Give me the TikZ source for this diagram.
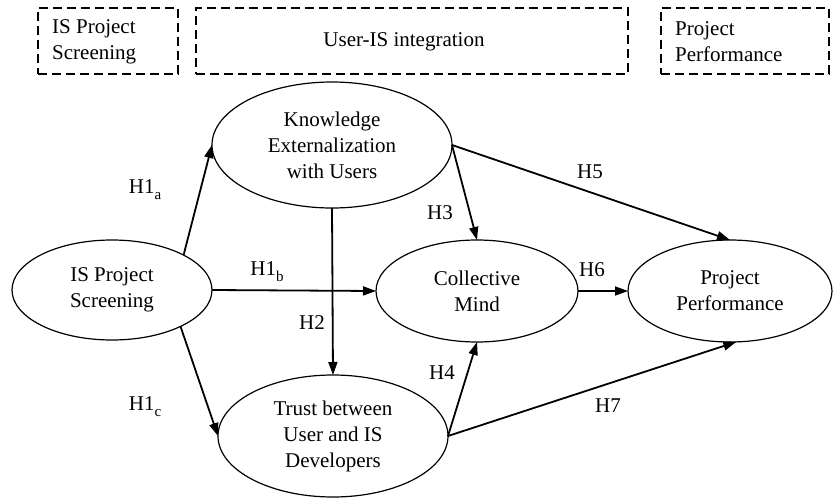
\documentclass[tikz,border=0pt]{standalone}
\usepackage{fontspec}
\setmainfont{Liberation Serif}
\usetikzlibrary{shapes.geometric,arrows.meta}
\newcommand{\hsub}[1]{\raisebox{-0.28em}{\fontsize{15}{15}\selectfont #1}}
\begin{document}
\begin{tikzpicture}[x=1pt,y=-1pt,
  every node/.style={font=\fontsize{21}{26}\selectfont},
  var/.style={draw,ellipse,line width=1.2pt,inner sep=0pt,outer sep=0pt,align=center},
  frame/.style={draw,line width=1.7pt,dash pattern=on 9pt off 5pt,inner sep=0pt,anchor=north west},
  link/.style={line width=1.8pt,-{Triangle[length=13pt,width=9pt]}},
  hyp/.style={inner sep=0pt}]
\useasboundingbox (0,0) rectangle (836,498);
% stage frames
\node[frame,minimum width=140pt,minimum height=66pt] (f1) at (37,7) {};
\node[frame,minimum width=432pt,minimum height=66pt] (f2) at (195,7) {};
\node[frame,minimum width=168pt,minimum height=66pt] (f3) at (660,7) {};
\node[align=left,anchor=west,inner sep=0pt] (t1) at (52,42) {IS Project\\Screening};
\node[inner sep=0pt] (t2) at (404,42) {User-IS integration};
\node[align=left,anchor=west,inner sep=0pt] (t3) at (675,42) {Project\\Performance};
% constructs
\node[var,minimum width=200pt,minimum height=100pt] (is) at (112,290) {IS Project\\Screening};
\node[var,minimum width=240pt,minimum height=126pt] (kn) at (332,145) {Knowledge\\Externalization\\with Users};
\node[var,minimum width=202pt,minimum height=102pt] (cm) at (477,291) {Collective\\Mind};
\node[var,minimum width=204pt,minimum height=102pt] (pp) at (730,291) {Project\\Performance};
\node[var,minimum width=230pt,minimum height=122pt] (tr) at (333,436) {Trust between\\User and IS\\Developers};
% paths
\draw[link] (is.26) -- (kn.west);
\draw[link] (is.east) -- (cm.west);
\draw[link] (is.-28) -- (tr.west);
\draw[link] (kn.south) -- (tr.north);
\draw[link] (kn.east) -- (cm.north);
\draw[link] (kn.east) -- (pp.north);
\draw[link] (cm.east) -- (pp.west);
\draw[link] (tr.east) -- (cm.south);
\draw[link] (tr.east) -- (pp.-83);
% hypothesis labels
\node[hyp] (h1a) at (145,190) {H1\hsub{a}};
\node[hyp] (h1b) at (267,272) {H1\hsub{b}};
\node[hyp] (h2) at (312,323) {H2};
\node[hyp] (h1c) at (145,407) {H1\hsub{c}};
\node[hyp] (h3) at (440,213) {H3};
\node[hyp] (h4) at (442,373) {H4};
\node[hyp] (h5) at (590,172) {H5};
\node[hyp] (h6) at (592,270) {H6};
\node[hyp] (h7) at (608,406) {H7};
\end{tikzpicture}
\end{document}
